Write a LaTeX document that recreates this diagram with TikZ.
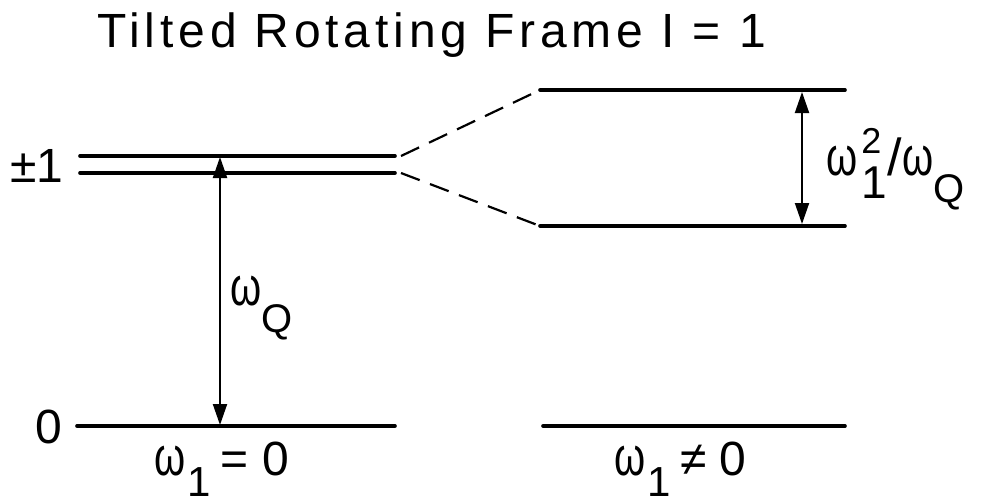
\documentclass[tikz,border=0pt]{standalone}
\usepackage{fontspec}
\setmainfont{Liberation Sans}
\usetikzlibrary{arrows.meta}
\newcommand{\fs}[1]{\fontsize{#1}{#1}\selectfont}
\newcommand{\om}{\scalebox{0.95}[1.3]{\fs{42}ω}}
\begin{document}
\begin{tikzpicture}[x=1pt,y=-1pt,
  level/.style={line width=3.6pt, line cap=round},
  tie/.style={line width=2.2pt, dash pattern=on 20pt off 11pt},
  gap/.style={line width=2pt, {Triangle[length=21pt,width=14pt]}-{Triangle[length=21pt,width=14pt]}},
  lab/.style={inner sep=0pt, font=\fs{48}}]
\useasboundingbox (0,0) rectangle (987,503);
% level end points
\coordinate (pa) at (80,156);  \coordinate (pb) at (395,156);
\coordinate (qa) at (80,173);  \coordinate (qb) at (395,173);
\coordinate (pe) at (401,156); \coordinate (qe) at (401,173);
\coordinate (za) at (77,426);  \coordinate (zb) at (395,426);
\coordinate (ta) at (540,90);  \coordinate (tb) at (845,90);
\coordinate (ba) at (540,226); \coordinate (bb) at (845,226);
\coordinate (ra) at (543,426); \coordinate (rb) at (845,426);
\coordinate (la) at (220,157); \coordinate (lb) at (220,425);
\coordinate (ua) at (802,92);  \coordinate (ub) at (802,224);
% levels
\draw[level] (pa) -- (pb);
\draw[level] (qa) -- (qb);
\draw[level] (za) -- (zb);
\draw[level] (ta) -- (tb);
\draw[level] (ba) -- (bb);
\draw[level] (ra) -- (rb);
% dashed ties
\draw[tie] (pe) -- (ta);
\draw[tie] (qe) -- (ba);
% splittings
\draw[gap] (la) -- (lb);
\draw[gap] (ua) -- (ub);
% labels
\node[lab, anchor=base west] (title) at (97,48) {\addfontfeature{LetterSpace=10}Tilted Rotating Frame I = 1};
\node[lab, anchor=base west] (pm) at (10,182) {±1};
\node[lab, anchor=base west] (zero) at (35,443) {0};
\node[lab, anchor=base west] (wq) at (230,305) {\om\raisebox{-27pt}{\fs{40}Q}};
\node[lab, anchor=base west] (split) at (826,175) {\om\hspace{4pt}\rlap{\raisebox{22pt}{\fs{36}2}}\raisebox{-23pt}{\fs{46}1}\hspace{1pt}{\fs{52}/}\om\raisebox{-27pt}{\fs{40}Q}};
\node[lab, anchor=base west] (wz) at (154,475) {\om\hspace{2pt}\raisebox{-21pt}{\fs{42}1}\hspace{10pt}=\hspace{14pt}0};
\node[lab, anchor=base west] (wn) at (614,475) {\om\hspace{2pt}\raisebox{-21pt}{\fs{42}1}\hspace{10pt}≠\hspace{12pt}0};
\end{tikzpicture}
\end{document}
